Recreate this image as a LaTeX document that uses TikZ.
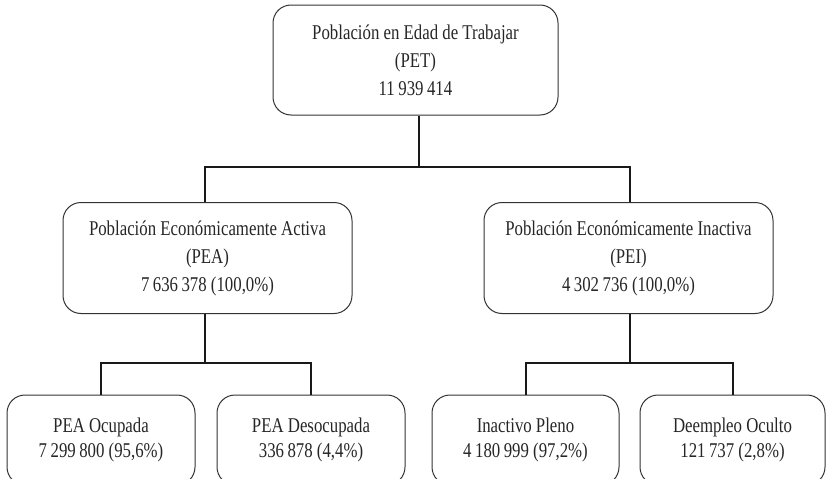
\documentclass[tikz,border=0pt]{standalone}
\usepackage{fontspec}
\setmainfont{Liberation Serif}[FakeStretch=0.8]
\begin{document}
\begin{tikzpicture}[x=1pt,y=-1pt,
  box/.style={draw=black!80,line width=1pt,rounded corners=18pt,align=center,
    inner sep=0pt,font=\fontsize{21}{28}\selectfont,text=black!85},
  small/.style={font=\fontsize{21}{25}\selectfont},
  conn/.style={draw=black!90,line width=2pt}]
\useasboundingbox (0,0) rectangle (827,479);
\clip (0,0) rectangle (827,479);
\node[box,minimum width=285pt,minimum height=110pt] (pet) at (415.5,60)
  {Población en Edad de Trabajar\\(PET)\\11\,939\,414};
\node[box,minimum width=289pt,minimum height=111pt] (pea) at (207.5,258)
  {Población Económicamente Activa\\(PEA)\\7\,636\,378 (100,0\%)};
\node[box,minimum width=289pt,minimum height=111pt] (pei) at (628.5,258)
  {Población Económicamente Inactiva\\(PEI)\\4\,302\,736 (100,0\%)};
\node[box,small,minimum width=188pt,minimum height=90pt] (b1) at (101,440)
  {PEA Ocupada\\7\,299\,800 (95,6\%)};
\node[box,small,minimum width=188pt,minimum height=90pt] (b2) at (311,440)
  {PEA Desocupada\\336\,878 (4,4\%)};
\node[box,small,minimum width=187pt,minimum height=90pt] (b3) at (525.5,440)
  {Inactivo Pleno\\4\,180\,999 (97,2\%)};
\node[box,small,minimum width=185pt,minimum height=90pt] (b4) at (732.5,440)
  {Deempleo Oculto\\121\,737 (2,8\%)};
\coordinate (j1) at (419,167);
\coordinate (j2) at (205,363);
\coordinate (j3) at (630,363);
\draw[conn] (pet.south -| j1) -- (j1);
\draw[conn] (pea.north -| j2) |- (j1) -| (pei.north -| j3);
\draw[conn] (pea.south -| j2) -- (j2);
\draw[conn] (b1.north) |- (j2) -| (b2.north);
\draw[conn] (pei.south -| j3) -- (j3);
\draw[conn] (b3.north) |- (j3) -| (b4.north);
\end{tikzpicture}
\end{document}
